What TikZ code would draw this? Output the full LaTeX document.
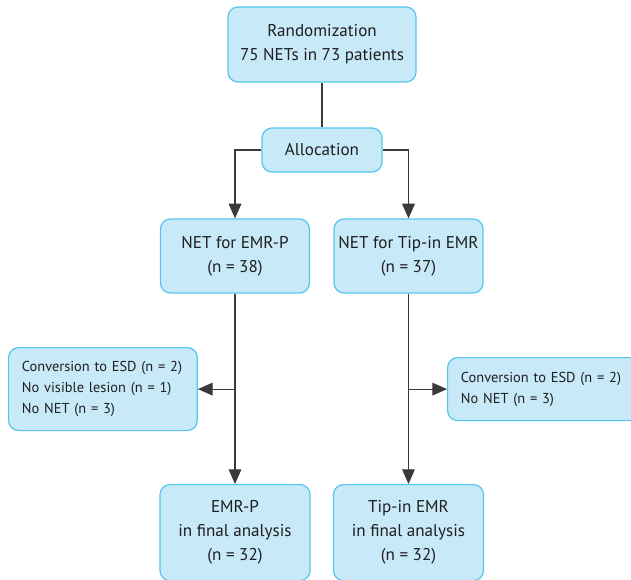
\documentclass[tikz,border=0pt]{standalone}
\usepackage{fontspec}
\setmainfont{PT Sans}
\usetikzlibrary{arrows.meta,calc}
\definecolor{boxfill}{HTML}{C8E9F8}
\definecolor{boxline}{HTML}{55C5EE}
\definecolor{conn}{HTML}{3A3A3A}
\begin{document}
\begin{tikzpicture}[x=0.75pt,y=-0.75pt,
  flowbox/.style={draw=boxline,fill=boxfill,line width=0.9pt,rounded corners=7.5pt,
    align=center,inner sep=0pt,font=\fontsize{12.8}{18}\selectfont,text=black!88},
  sidebox/.style={draw=boxline,fill=boxfill,line width=0.9pt,rounded corners=7.5pt,
    align=left,inner xsep=10pt,inner ysep=0pt,font=\fontsize{10.8}{15.8}\selectfont,text=black!88},
  link/.style={draw=conn,line width=0.8pt},
  arr/.style={link,-{Triangle[length=11pt,width=9.5pt]}}]
\useasboundingbox (0,0) rectangle (631,579);
\clip (0,0) rectangle (631,579);
\node[flowbox,minimum width=188*0.75pt,minimum height=75*0.75pt] (rand) at (322,44.5)
  {Randomization\\75 NETs in 73 patients};
\node[flowbox,minimum width=120*0.75pt,minimum height=44*0.75pt] (alloc) at (322,150) {Allocation};
\node[flowbox,minimum width=149*0.75pt,minimum height=74*0.75pt] (emrp) at (235,256)
  {NET for EMR-P\\(n = 38)};
\node[flowbox,minimum width=149*0.75pt,minimum height=74*0.75pt] (tip) at (408.5,256)
  {NET for Tip-in EMR\\(n = 37)};
\node[sidebox,anchor=north west,minimum height=83*0.75pt,text width=(189-27)*0.75pt] (exL) at (8,347)
  {Conversion to ESD (n = 2)\\No visible lesion (n = 1)\\No NET (n = 3)};
\node[sidebox,anchor=north west,minimum height=63*0.75pt,text width=(200-27)*0.75pt] (exR) at (447,357)
  {Conversion to ESD (n = 2)\\No NET (n = 3)};
\node[flowbox,anchor=north,minimum width=150*0.75pt,minimum height=96*0.75pt] (finL) at (235,484)
  {EMR-P\\in final analysis\\(n = 32)};
\node[flowbox,anchor=north,minimum width=150*0.75pt,minimum height=96*0.75pt] (finR) at (408.5,484)
  {Tip-in EMR\\in final analysis\\(n = 32)};
\draw[link] (rand.south) -- (alloc.north);
\draw[arr] (alloc.west) -| (emrp.north);
\draw[arr] (alloc.east) -| (tip.north);
\draw[arr] (emrp.south) -- (finL.north);
\draw[arr] (tip.south) -- (finR.north);
\draw[arr] (emrp.south |- exL.east) -- (exL.east);
\draw[arr] (tip.south |- exR.west) -- (exR.west);
\end{tikzpicture}
\end{document}
